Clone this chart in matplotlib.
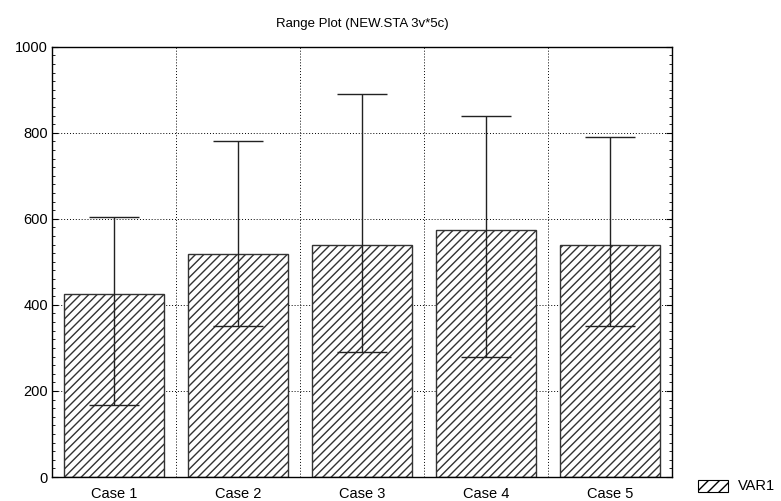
import numpy as np
import matplotlib.pyplot as plt
from matplotlib.patches import Rectangle

# data
cases = ['Case 1', 'Case 2', 'Case 3', 'Case 4', 'Case 5']
means = [425, 518, 540, 573, 540]
lows = [168, 350, 290, 280, 350]
highs = [605, 780, 890, 840, 790]

plt.rcParams['font.family'] = ['Liberation Sans', 'DejaVu Sans']
plt.rcParams['hatch.linewidth'] = 1.0

fig = plt.figure(figsize=(7.81, 5.01), dpi=100)
ax = fig.add_axes([0.0666, 0.0479, 0.7938, 0.8589])

x = np.arange(len(cases))
ax.bar(x, means, width=0.8, color='white', edgecolor='#333333', hatch='////', linewidth=1.0, zorder=2)

# range lines with caps
ax.vlines(x, lows, highs, color='#222222', linewidth=1.0, zorder=3)
ax.hlines(lows, x - 0.2, x + 0.2, color='#222222', linewidth=1.0, zorder=3)
ax.hlines(highs, x - 0.2, x + 0.2, color='#222222', linewidth=1.0, zorder=3)

ax.set_xlim(-0.5, 4.5)
ax.set_ylim(0, 1000)
ax.set_xticks(x)
ax.set_xticklabels(cases, fontsize=10.5)
ax.set_xticks(x[:-1] + 0.5, minor=True)
ax.set_yticks([0, 200, 400, 600, 800, 1000])
ax.set_yticks(np.arange(0, 1001, 20), minor=True)
ax.tick_params(axis='x', which='both', length=0, pad=7)
ax.tick_params(axis='y', which='both', direction='in', left=True, right=True, labelsize=10.5, pad=3)
ax.tick_params(axis='y', which='major', length=4)
ax.tick_params(axis='y', which='minor', length=2)

ax.grid(True, axis='y', which='major', linestyle=(0, (1, 2)), color='black', linewidth=0.7, zorder=1)
ax.grid(True, axis='x', which='minor', linestyle=(0, (1, 2)), color='black', linewidth=0.7, zorder=1)
ax.set_axisbelow(True)

for s in ax.spines.values():
    s.set_linewidth(1.0)

fig.text(0.5 * (0.0666 + 0.8604), 0.953, 'Range Plot (NEW.STA 3v*5c)', ha='center', va='center', fontsize=9.5)

# legend key drawn by hand so it sits at the bottom right corner
fig.patches.append(Rectangle((0.8937, 0.018), 0.0384, 0.024, transform=fig.transFigure,
                             facecolor='white', edgecolor='black', hatch='///', linewidth=0.8))
fig.text(0.945, 0.030, 'VAR1', ha='left', va='center', fontsize=10.5)

fig.savefig('out.png', dpi=100)
